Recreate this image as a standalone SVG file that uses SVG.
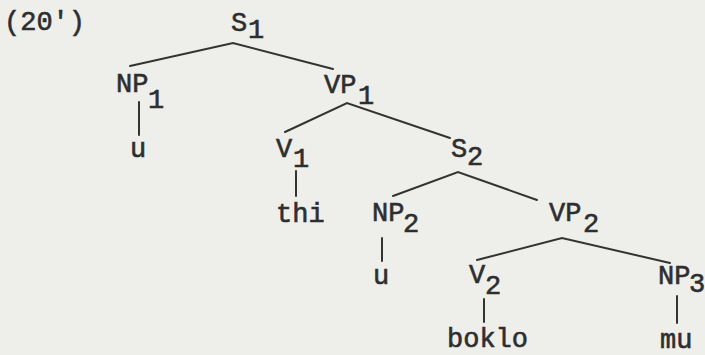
<svg xmlns="http://www.w3.org/2000/svg" width="705" height="355" viewBox="0 0 705 355">
<style>
  text { font-family: "Liberation Mono", "DejaVu Sans Mono", monospace; font-size: 27px; fill: #2e2e2e; stroke: #2e2e2e; stroke-width: 0.6; }
  .e { stroke: #333; stroke-width: 2; fill: none; stroke-linecap: round; }
</style>
<rect width="705" height="355" fill="#eeeeeb"/>
<text x="4" y="30">(20')</text>
<g id="connectors">
  <polyline class="e" points="130,66 233,43 333,69"/>
  <line class="e" x1="139" y1="102" x2="139" y2="135"/>
  <polyline class="e" points="285,132 347,103 450,138"/>
  <line class="e" x1="296" y1="171" x2="296" y2="196"/>
  <polyline class="e" points="393,196 458,172 537,200"/>
  <line class="e" x1="382" y1="238" x2="382" y2="261"/>
  <polyline class="e" points="477,260 562,238 670,263"/>
  <line class="e" x1="484" y1="299" x2="484" y2="322"/>
  <line class="e" x1="677" y1="296" x2="677" y2="323"/>
</g>
<g id="S1"><text x="231" y="31">S</text><text x="248" y="38">1</text></g>
<g id="NP1"><text x="116" y="92">NP</text><text x="148" y="108">1</text></g>
<g id="u1"><text x="130" y="157">u</text></g>
<g id="VP1"><text x="324" y="93">VP</text><text x="358" y="104">1</text></g>
<g id="V1"><text x="276" y="157">V</text><text x="293" y="167">1</text></g>
<g id="thi"><text x="276" y="222">thi</text></g>
<g id="S2"><text x="451" y="157">S</text><text x="467" y="165">2</text></g>
<g id="NP2"><text x="372" y="221">NP</text><text x="403" y="232">2</text></g>
<g id="u2"><text x="373" y="284">u</text></g>
<g id="VP2"><text x="549" y="221">VP</text><text x="583" y="232">2</text></g>
<g id="V2"><text x="469" y="283">V</text><text x="485" y="294">2</text></g>
<g id="boklo"><text x="447" y="347">boklo</text></g>
<g id="NP3"><text x="658" y="284">NP</text><text x="689" y="292">3</text></g>
<g id="mu"><text x="660" y="348">mu</text></g>
</svg>
